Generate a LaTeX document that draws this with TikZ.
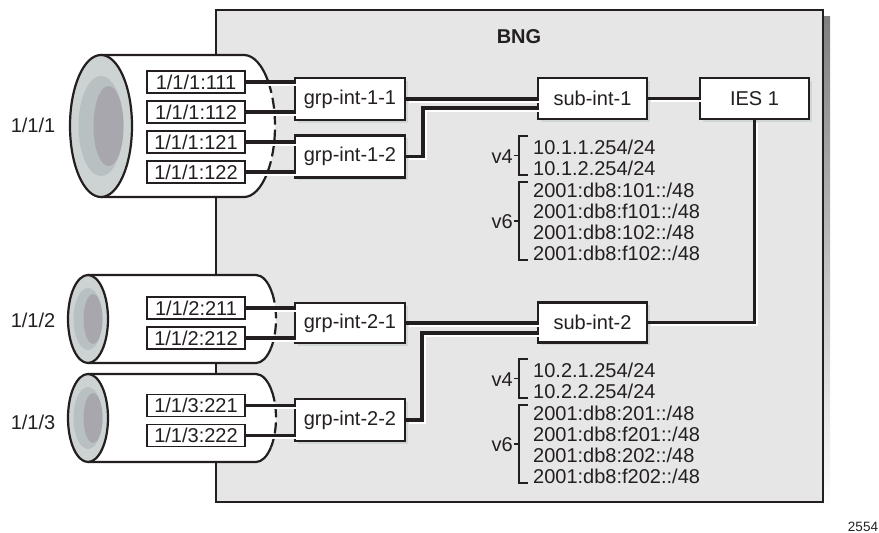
\documentclass[tikz,border=0pt]{standalone}
\usepackage{fontspec}
\setmainfont{Liberation Sans}
\usetikzlibrary{shadows}
\definecolor{ink}{HTML}{231F20}
\definecolor{bnggray}{HTML}{E6E6E6}
\definecolor{shade}{HTML}{D0D6D6}
\definecolor{rim}{HTML}{CDD3D3}
\definecolor{ring}{HTML}{B9C0C1}
\definecolor{core}{HTML}{A8A7AD}
\newcommand\tube[8]{% #1 face x, #2 cy, #3 rx, #4 ry, #5 end x, #6 mid rx, #7 mid ry, #8 inner rx
  \fill[white] (#1,#2-#4) -- (#5,#2-#4) arc[start angle=90,end angle=-90,x radius=#3pt,y radius=#4pt] -- (#1,#2+#4) -- cycle;
  \draw[ink,line width=2.2pt] (#1,#2-#4) -- (#5,#2-#4) arc[start angle=90,end angle=38,x radius=#3pt,y radius=#4pt];
  \draw[ink,line width=2.2pt] (#1,#2+#4) -- (#5,#2+#4) arc[start angle=-90,end angle=-42,x radius=#3pt,y radius=#4pt];
  \draw[ink,line width=2.2pt,dash pattern=on 11pt off 5pt] (#5,#2) ++(38:#3pt and #4pt) arc[start angle=38,end angle=-42,x radius=#3pt,y radius=#4pt];
  \draw[ink,line width=2.2pt,fill=rim] (#1,#2) ellipse[x radius=#3pt,y radius=#4pt];
  \fill[ring] (#1,#2) ellipse[x radius=#6pt,y radius=#7pt];
  \pgfmathsetmacro\innery{0.8*#7}
  \fill[core] (#1+#6-#8,#2) ellipse[x radius=#8pt,y radius=\innery pt];
}
\begin{document}
\begin{tikzpicture}[x=1pt,y=-1pt,
  every node/.style={font=\fontsize{20}{21}\selectfont, text=ink},
  box/.style={draw=ink, line width=2.1pt, fill=white, inner sep=0pt, minimum width=110pt, minimum height=42pt,
    drop shadow={shadow xshift=2.5pt, shadow yshift=-2.5pt, fill=shade, opacity=1}},
  sapbox/.style={draw=ink, line width=1.9pt, fill=white, inner sep=0pt, minimum width=98pt, minimum height=22pt},
  conn/.style={draw=ink, line width=3.6pt},
  glow/.style={draw=white, line width=2pt, transform canvas={xshift=2.5pt, yshift=-2.5pt}},
  brk/.style={draw=ink, line width=1.4pt},
  addr/.style={anchor=base west, inner sep=0pt},
  ver/.style={anchor=base east, inner sep=0pt},
  port/.style={inner sep=0pt}
]
\useasboundingbox (0,0) rectangle (879,533);

% BNG box
\fill[shade] (222,16) rectangle (830,509);
\draw[ink, line width=2.8pt, fill=bnggray] (216,10) rectangle (823,502);
\node[font=\fontsize{20}{21}\selectfont\bfseries] (bng) at (519,37) {BNG};

% cylinders
\tube{101}{126}{31}{71}{244}{22.5}{50}{15}
\tube{88}{319}{20}{44}{256}{14.5}{31}{9.5}
\tube{88}{418}{20}{44}{256}{14.5}{31}{9.5}

\node[port] (p1) at (33,125) {1/1/1};
\node[port] (p2) at (33,320) {1/1/2};
\node[port] (p3) at (33,422) {1/1/3};

% SAPs
\node[sapbox] (s111) at (196,82) {1/1/1:111};
\node[sapbox] (s112) at (196,112) {1/1/1:112};
\node[sapbox] (s121) at (196,142) {1/1/1:121};
\node[sapbox] (s122) at (196,172) {1/1/1:122};
\node[sapbox] (s211) at (196,308) {1/1/2:211};
\node[sapbox] (s212) at (196,338) {1/1/2:212};
\node[sapbox] (s221) at (196,405.5) {1/1/3:221};
\node[sapbox] (s222) at (196,435.5) {1/1/3:222};

% interfaces
\node[box] (g11) at (350,99) {grp-int-1-1};
\node[box] (g12) at (350,156.5) {grp-int-1-2};
\node[box, minimum height=40pt] (g21) at (350,323) {grp-int-2-1};
\node[box] (g22) at (350,420) {grp-int-2-2};
\node[box, minimum width=109pt, minimum height=41pt] (si1) at (592.5,98.5) {sub-int-1};
\node[box, minimum width=109pt, minimum height=40pt] (si2) at (592.5,322.5) {sub-int-2};
\node[box, minimum width=109pt, minimum height=41pt] (ies) at (754.5,98.5) {IES 1};

\coordinate (c1) at (423,108);
\coordinate (c2) at (422,333);

% connectors
\foreach \s/\g in {s111/g11, s112/g11, s121/g12, s122/g12, s211/g21, s212/g21, s221/g22, s222/g22}{
  \draw[glow] (\s.east) -- (\s.east -| \g.west);
  \draw[conn] (\s.east) -- (\s.east -| \g.west);
}
\draw[glow] (g11.east) -- (g11.east -| si1.west);
\draw[glow] (g12.east) -| (c1) -- (c1 -| si1.west);
\draw[glow] (si1.east) -- (ies.west);
\draw[glow] (ies.south) |- (si2.east);
\draw[glow] (g21.east) -- (g21.east -| si2.west);
\draw[glow] (g22.east) -| (c2) -- (c2 -| si2.west);
\draw[conn] (g11.east) -- (g11.east -| si1.west);
\draw[conn] (g12.east) -| (c1) -- (c1 -| si1.west);
\draw[conn] (si1.east) -- (ies.west);
\draw[conn] (ies.south) |- (si2.east);
\draw[conn] (g21.east) -- (g21.east -| si2.west);
\draw[conn] (g22.east) -| (c2) -- (c2 -| si2.west);

% address block 1
\draw[brk] (528,136) -- (519,136) -- (519,175) -- (528,175);
\draw[brk] (514,155.5) -- (519,155.5);
\draw[brk] (528,182) -- (519,182) -- (519,260) -- (528,260);
\draw[brk] (514,221) -- (519,221);
\node[ver] (v41) at (513,163) {v4};
\node[ver] (v61) at (513,228) {v6};
\node[addr] (a1) at (533,154) {10.1.1.254/24};
\node[addr] (a2) at (533,175) {10.1.2.254/24};
\node[addr] (a3) at (533,197) {2001:db8:101::/48};
\node[addr] (a4) at (533,218) {2001:db8:f101::/48};
\node[addr] (a5) at (533,239) {2001:db8:102::/48};
\node[addr] (a6) at (533,260) {2001:db8:f102::/48};

% address block 2
\draw[brk] (528,359) -- (519,359) -- (519,398) -- (528,398);
\draw[brk] (514,378.5) -- (519,378.5);
\draw[brk] (528,405) -- (519,405) -- (519,483) -- (528,483);
\draw[brk] (514,444) -- (519,444);
\node[ver] (v42) at (513,386) {v4};
\node[ver] (v62) at (513,451) {v6};
\node[addr] (b1) at (533,377) {10.2.1.254/24};
\node[addr] (b2) at (533,398) {10.2.2.254/24};
\node[addr] (b3) at (533,420) {2001:db8:201::/48};
\node[addr] (b4) at (533,441) {2001:db8:f201::/48};
\node[addr] (b5) at (533,462) {2001:db8:202::/48};
\node[addr] (b6) at (533,483) {2001:db8:f202::/48};

\node[font=\fontsize{13.5}{15}\selectfont] (fig) at (863,527) {2554};
\end{tikzpicture}
\end{document}
